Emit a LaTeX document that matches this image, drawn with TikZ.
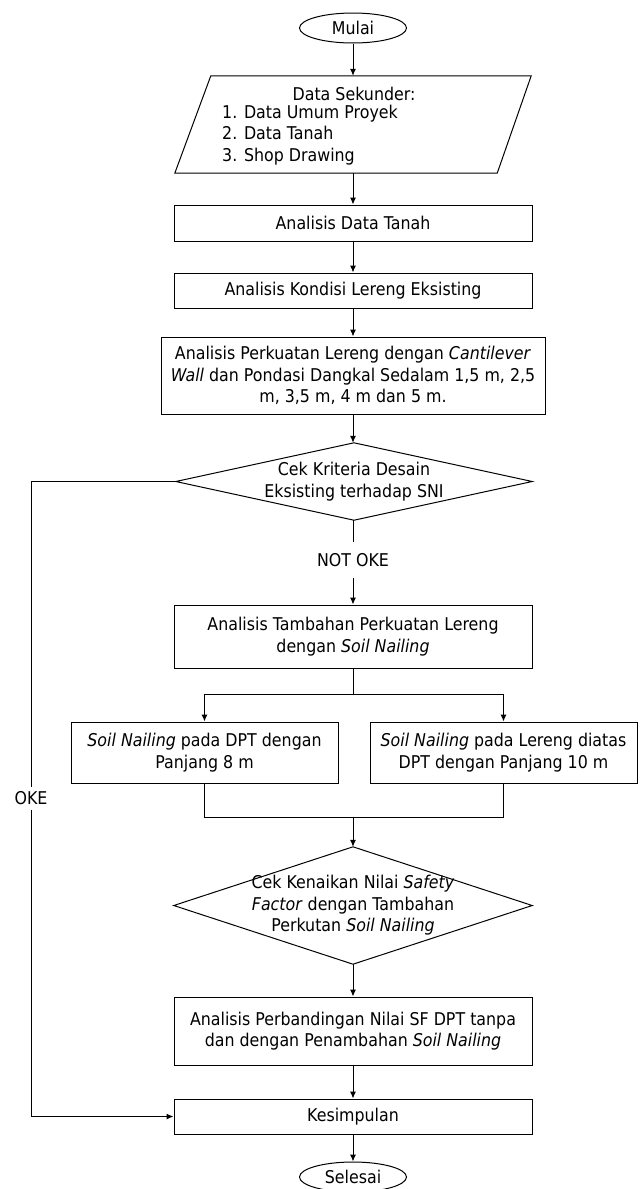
\documentclass[tikz,border=0pt]{standalone}
\usepackage{fontspec}
\setmainfont{DejaVu Sans}[FakeStretch=0.9, ItalicFont={DejaVu Sans Oblique}]
\usetikzlibrary{shapes.geometric,arrows.meta,calc}
\newcommand\flowfont{\fontsize{17.6}{21.5}\selectfont}
\begin{document}
\begin{tikzpicture}[x=1pt,y=-1pt,
  txt/.style={inner sep=0pt, font=\flowfont, align=center},
  box/.style={draw, line width=1pt, rectangle, inner sep=0pt, minimum width=358pt, align=center, font=\flowfont},
  dia/.style={inner sep=0pt, align=center, font=\flowfont},
  term/.style={draw, line width=1pt, ellipse, inner sep=0pt, minimum width=107pt, minimum height=30pt, font=\flowfont},
  ln/.style={line width=1pt},
  arr/.style={line width=1pt, -{Latex[length=7pt,width=6pt]}}]
\fill[white] (0,0) rectangle (641,1189);
\useasboundingbox (0,0) rectangle (641,1189);

% start
\node[term] (start) at (353,28) {Mulai};

% data (parallelogram)
\node[inner sep=0pt, minimum width=356pt, minimum height=97pt] (data) at (353,124.5) {};
\draw[ln] ($(data.north west)+(36pt,0pt)$) -- (data.north east) -- ($(data.south east)+(-34pt,0pt)$) -- (data.south west) -- cycle;
\node[txt] (dtitle) at (354,94) {Data Sekunder:};
\node[txt, anchor=west, align=left] (dlist) at (222,135) {1. Data Umum Proyek\\2. Data Tanah\\3. Shop Drawing};

% boxes
\node[box, minimum height=36pt] (b1) at (353,223) {Analisis Data Tanah};
\node[box, minimum height=35pt] (b2) at (353,290.5) {Analisis Kondisi Lereng Eksisting};
\node[box, minimum width=384pt, minimum height=77pt] (b3) at (353,375.5) {Analisis Perkuatan Lereng dengan \textit{Cantilever}\\\textit{Wall} dan Pondasi Dangkal Sedalam 1,5 m, 2,5\\m, 3,5 m, 4 m dan 5 m.};

% decision 1
\node[dia, minimum width=356pt, minimum height=77pt] (d1) at (354,481.5) {Cek Kriteria Desain\\Eksisting terhadap SNI};
\draw[ln] (d1.north) -- (d1.east) -- (d1.south) -- (d1.west) -- cycle;
\node[txt, minimum height=36pt] (nok) at (353,560) {NOT OKE};

\node[box, minimum height=63pt] (b4) at (353,636.5) {Analisis Tambahan Perkuatan Lereng\\dengan \textit{Soil Nailing}};
\coordinate (split) at (353,694);

\node[box, minimum width=267pt, minimum height=61pt] (c1) at (204.5,752.5) {\textit{Soil Nailing} pada DPT dengan\\Panjang 8 m};
\node[box, minimum width=267pt, minimum height=61pt] (c2) at (503.5,752.5) {\textit{Soil Nailing} pada Lereng diatas\\DPT dengan Panjang 10 m};
\coordinate (join) at (353,817);

% decision 2
\node[dia, minimum width=358pt, minimum height=117pt] (d2) at (353,905.5) {Cek Kenaikan Nilai \textit{Safety}\\\textit{Factor} dengan Tambahan\\Perkutan \textit{Soil Nailing}};
\draw[ln] (d2.north) -- (d2.east) -- (d2.south) -- (d2.west) -- cycle;

\node[box, minimum height=68pt] (b5) at (353,1031) {Analisis Perbandingan Nilai SF DPT tanpa\\dan dengan Penambahan \textit{Soil Nailing}};
\node[box, minimum height=35pt] (b6) at (353,1116.5) {Kesimpulan};
\node[term] (stop) at (353,1177) {Selesai};

% OKE path
\coordinate (okeA) at (31,481.5);
\node[txt, minimum height=23pt] (oke) at (31,798.5) {OKE};
\coordinate (okeB) at (31,1116.5);

% connectors
\draw[arr] (start.south) -- (start.south |- data.north);
\draw[arr] (data.south) -- (b1.north);
\draw[arr] (b1.south) -- (b2.north);
\draw[arr] (b2.south) -- (b3.north);
\draw[arr] (b3.south) -- (b3.south |- d1.north);
\draw[ln] (d1.south -| nok) -- (nok.north);
\draw[arr] (nok.south) -- (b4.north);
\draw[ln] (b4.south) -- (split);
\draw[arr] (split) -| (c1.north);
\draw[arr] (split) -| (c2.north);
\draw[ln] (c1.south) |- (join);
\draw[ln] (c2.south) |- (join);
\draw[arr] (join) -- (d2.north);
\draw[arr] (d2.south) -- (b5.north);
\draw[arr] (b5.south) -- (b6.north);
\draw[arr] (b6.south) -- (stop.north);
\draw[ln] (d1.west) -- (okeA) -- (oke.north);
\draw[arr] (oke.south) -- (okeB) -- (b6.west);
\end{tikzpicture}
\end{document}
